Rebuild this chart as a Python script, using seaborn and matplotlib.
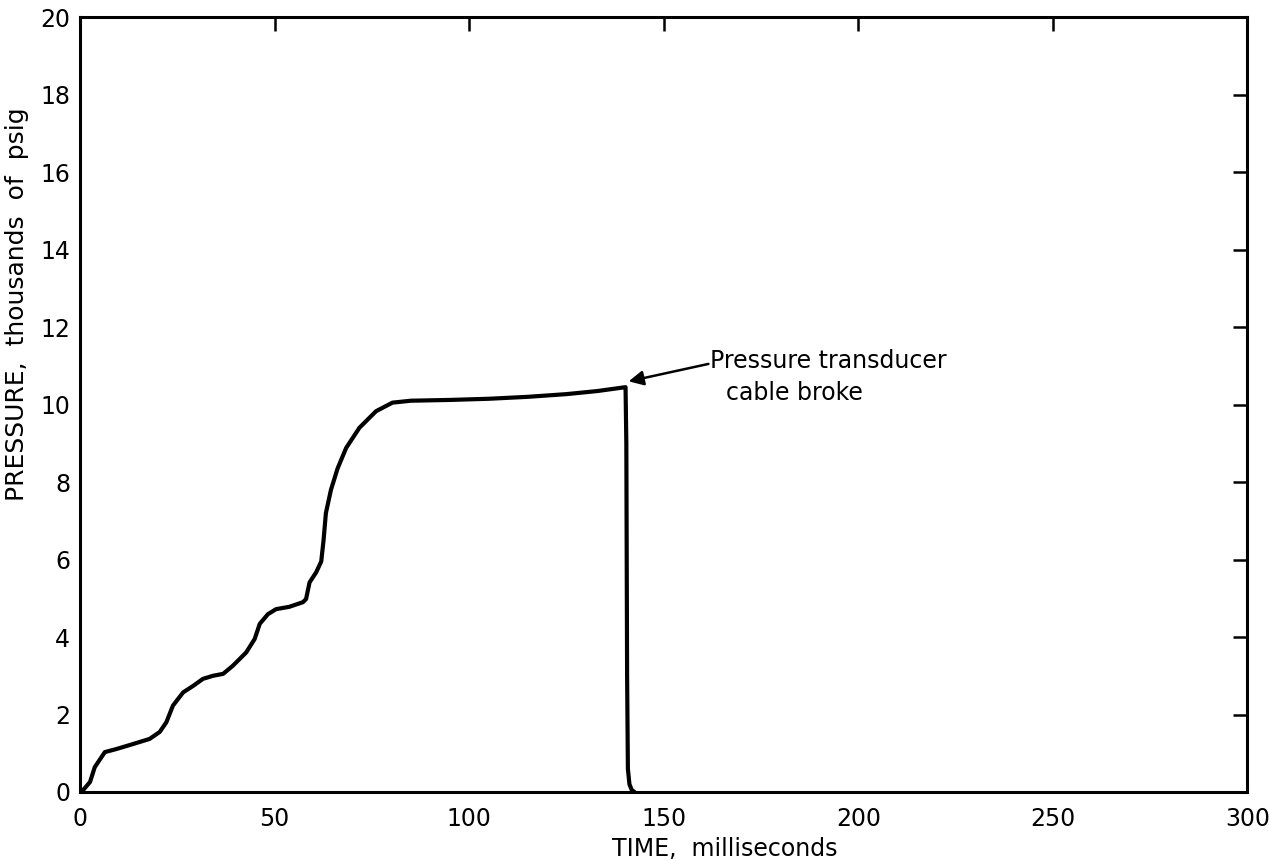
import matplotlib
matplotlib.use("Agg")
import matplotlib.pyplot as plt
import seaborn as sns
import pandas as pd

# Data
time_ms = [0, 0.4, 2.6, 3.8, 6.4, 9.4, 13.7, 17.9, 20.5, 22.2, 23.9, 26.5, 29.1,
           31.6, 34.2, 36.8, 39.3, 42.7, 44.9, 46.2, 48.3, 50.4, 53.8, 57.3, 58.1,
           59.0, 60.7, 62.0, 62.6, 63.2, 64.5, 66.2, 68.4, 71.8, 76.1, 80.3, 85,
           95, 105, 115, 125, 133, 140.2, 140.4, 140.6, 140.8, 141.2, 141.8, 142.5]
pressure_kpsig = [0, 0, 0.26, 0.64, 1.03, 1.11, 1.24, 1.37, 1.55, 1.8, 2.23, 2.57, 2.74,
                  2.92, 3.0, 3.05, 3.26, 3.6, 3.95, 4.34, 4.59, 4.72, 4.78, 4.9, 4.98,
                  5.41, 5.67, 5.95, 6.5, 7.2, 7.8, 8.35, 8.88, 9.4, 9.83, 10.05, 10.1,
                  10.12, 10.15, 10.2, 10.27, 10.35, 10.45, 9.0, 3.0, 0.6, 0.2, 0.05, 0]
x_ticks = [0, 50, 100, 150, 200, 250, 300]
y_ticks = [0, 2, 4, 6, 8, 10, 12, 14, 16, 18, 20]
annotation_line1 = "Pressure transducer"
annotation_line2 = "cable broke"

sns.set_theme(style="white")
plt.rcParams["font.family"] = ["DejaVu Sans"]
plt.rcParams.update({"text.color": "black", "axes.labelcolor": "black",
                     "xtick.color": "black", "ytick.color": "black"})

df = pd.DataFrame({"t": time_ms, "p": pressure_kpsig})

fig = plt.figure(figsize=(12.69, 8.59), dpi=100)
ax = fig.add_axes([0.063, 0.078, 0.920, 0.902])

sns.lineplot(data=df, x="t", y="p", sort=False, estimator=None,
             color="black", linewidth=3.0, ax=ax)

ax.set_xlim(0, 300)
ax.set_ylim(0, 20)
ax.set_xticks(x_ticks)
ax.set_yticks(y_ticks)
ax.set_xticklabels([str(v) for v in x_ticks], fontsize=17)
ax.set_yticklabels([str(v) for v in y_ticks], fontsize=17)

for s in ax.spines.values():
    s.set_color("black")
    s.set_linewidth(2.2)

ax.tick_params(axis="both", direction="in", length=10, width=1.8, color="black",
               labelcolor="black", top=True, right=True,
               labeltop=False, labelright=False)
ax.tick_params(axis="x", pad=11)
ax.tick_params(axis="y", pad=7)

ax.set_xlabel("TIME,  milliseconds", fontsize=17, color="black")
ax.set_ylabel("PRESSURE,  thousands  of  psig", fontsize=18, color="black")
ax.xaxis.set_label_coords(0.552, -0.058)
ax.yaxis.set_label_coords(-0.044, 0.63)

ax.annotate("", xy=(141.0, 10.6), xytext=(161.5, 11.05),
            arrowprops=dict(arrowstyle="-|>", color="black", lw=1.8,
                            mutation_scale=22, shrinkA=0, shrinkB=0))
ax.text(162, 11.12, annotation_line1, fontsize=17, ha="left", va="center",
        color="black")
ax.text(166, 10.3, annotation_line2, fontsize=17, ha="left", va="center",
        color="black")

ax.grid(False)
fig.savefig("out.png", dpi=100)
